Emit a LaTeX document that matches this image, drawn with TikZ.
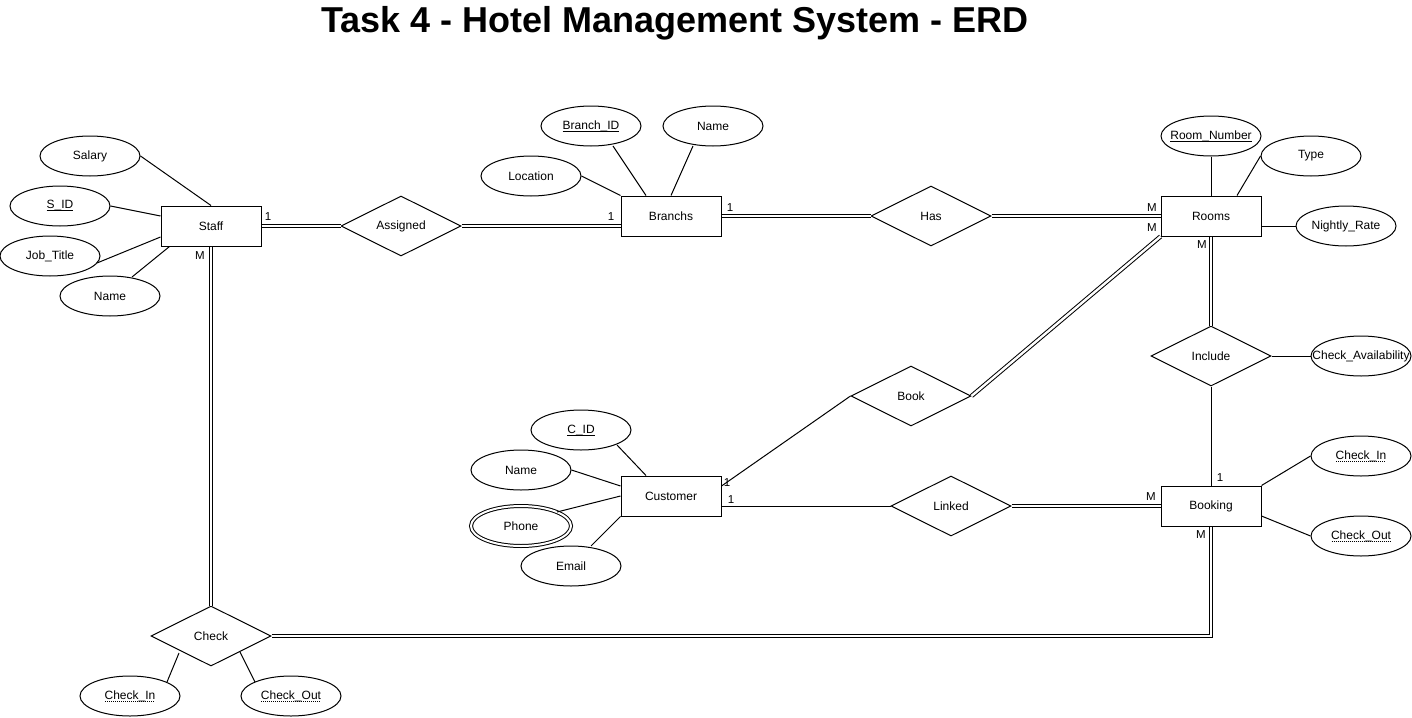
\documentclass[tikz,border=0pt]{standalone}
\usepackage{fontspec}
\setmainfont{Liberation Sans}
\usetikzlibrary{shapes.geometric,calc}
\newcommand{\zb}[1]{\makebox[0pt]{#1}}
\newcommand{\keyul}[1]{\setbox0=\hbox{#1}\rlap{\smash{\raisebox{-2.4pt}{\vrule width \wd0 height 0.9pt depth 0pt}}}\box0}
\newcommand{\dotul}[1]{\setbox0=\hbox{#1}\rlap{\smash{\raisebox{-2.6pt}{\hbox to \wd0{\leaders\hbox to 2pt{\hss\vrule width 1pt height 0.9pt depth 0pt\hss}\hfill}}}}\box0}
\begin{document}
\begin{tikzpicture}[x=1pt,y=-1pt,
  txt/.style={font=\fontsize{12}{14}\selectfont},
  ent/.style={draw, line width=1pt, rectangle, minimum width=100pt, minimum height=40pt, inner sep=0pt, txt},
  rel/.style={draw, line width=1pt, diamond, aspect=2, minimum width=120pt, minimum height=60pt, inner sep=0pt, txt},
  attr/.style={draw, line width=1pt, ellipse, minimum width=100pt, minimum height=40pt, inner sep=0pt, txt},
  mattr/.style={attr, double, double distance=2pt},
  ln/.style={line width=1pt},
  dbl/.style={double, line width=1pt, double distance=2.4pt},
  card/.style={font=\fontsize{11.5}{13}\selectfont, inner sep=0pt}
]
\useasboundingbox (0,0) rectangle (1412,717);
\fill[white] (0,0) rectangle (1412,717);

\node[font=\fontsize{36}{40}\selectfont\bfseries] (title) at (675,23) {Task 4 - Hotel Management System - ERD};

% entities
\node[ent] (staff) at (211,226) {Staff};
\node[ent] (branchs) at (671,216) {Branchs};
\node[ent] (rooms) at (1211,216) {Rooms};
\node[ent] (customer) at (671,496) {Customer};
\node[ent] (booking) at (1211,506) {Booking};

% relationships
\node[rel] (assigned) at (401,226) {Assigned};
\node[rel] (has) at (931,216) {Has};
\node[rel] (include) at (1211,356) {Include};
\node[rel] (book) at (911,396) {Book};
\node[rel] (linked) at (951,506) {Linked};
\node[rel] (check) at (211,636) {Check};

% attributes
\node[attr] (salary) at (90,156) {\zb{Salary}};
\node[attr] (sid) at (60,206) {\zb{\keyul{S\_ID}}};
\node[attr] (job) at (50,256) {\zb{Job\_Title}};
\node[attr] (sname) at (110,296) {\zb{Name}};
\node[attr] (bid) at (591,126) {\zb{\keyul{Branch\_ID}}};
\node[attr] (bname) at (713,126) {\zb{Name}};
\node[attr] (loc) at (531,176) {\zb{Location}};
\node[attr] (rnum) at (1211,136) {\zb{\keyul{Room\_Number}}};
\node[attr] (type) at (1311,156) {\zb{Type}};
\node[attr] (rate) at (1346,226) {\zb{Nightly\_Rate}};
\node[attr] (avail) at (1361,356) {\zb{Check\_Availability}};
\node[attr] (bcin) at (1361,456) {\zb{\dotul{Check\_In}}};
\node[attr] (bcout) at (1361,536) {\zb{\dotul{Check\_Out}}};
\node[attr] (cid) at (581,430) {\zb{\keyul{C\_ID}}};
\node[attr] (cname) at (521,470) {\zb{Name}};
\node[mattr] (phone) at (521,526) {\zb{Phone}};
\node[attr] (email) at (571,566) {\zb{Email}};
\node[attr] (ccin) at (130,696) {\zb{\dotul{Check\_In}}};
\node[attr] (ccout) at (291,696) {\zb{\dotul{Check\_Out}}};

% attribute connectors
\draw[ln] (salary.east) -- (staff.north);
\draw[ln] (sid.east) -- ($(staff.west)+(0,-10)$);
\draw[ln] ($(job)+(47,7)$) -- ($(staff.west)+(0,11)$);
\draw[ln] ($(sname)+(22,-19)$) -- ($(staff.south west)+(9,0)$);
\draw[ln] ($(bid)+(22,20)$) -- ($(branchs.north)+(-25,0)$);
\draw[ln] ($(bname)+(-20,20)$) -- (branchs.north);
\draw[ln] (loc.east) -- (branchs.north west);
\draw[ln] (rnum.south) -- (rooms.north);
\draw[ln] (type.west) -- ($(rooms.north)+(26,0)$);
\draw[ln] (rate.west) -- (rate.west -| rooms.east);
\draw[ln] (include.east) -- (avail.west);
\draw[ln] (booking.north east) -- (bcin.west);
\draw[ln] ($(booking.east)+(0,10)$) -- (bcout.west);
\draw[ln] ($(cid)+(36,15)$) -- ($(customer.north)+(-25,0)$);
\draw[ln] (cname.east) -- ($(customer.west)+(0,-10)$);
\draw[ln] ($(phone)+(36,-14)$) -- (customer.west);
\draw[ln] ($(email)+(20,-20)$) -- (customer.south west);
\draw[ln] ($(ccin)+(37,-14)$) -- ($(check)+(-32,17)$);
\draw[ln] ($(ccout)+(-36,-14)$) -- ($(check)+(29,16)$);

% relationship connectors
\draw[dbl] (staff.east) -- (assigned.west);
\draw[dbl] (assigned.east) -- (assigned.east -| branchs.west);
\draw[dbl] (branchs.east) -- (has.west);
\draw[dbl] (has.east) -- (rooms.west);
\draw[dbl] (rooms.south) -- (include.north);
\draw[ln] (include.south) -- (booking.north);
\draw[dbl] (linked.east) -- (booking.west);
\draw[ln] (linked.west -| customer.east) -- (linked.west);
\draw[ln] ($(customer.east)+(0,-10)$) -- (book.west);
\draw[dbl] (book.east) -- (rooms.south west);
\draw[dbl] (staff.south) -- (check.north);
\draw[dbl] (check.east) -| (booking.south);

% cardinalities
\node[card] (k1) at (268,217) {1};
\node[card] (k2) at (200,256) {M};
\node[card] (k3) at (611,217) {1};
\node[card] (k4) at (730,208) {1};
\node[card] (k5) at (1152,208) {M};
\node[card] (k6) at (1152,228) {M};
\node[card] (k7) at (1202,245) {M};
\node[card] (k8) at (1220,478) {1};
\node[card] (k9) at (1151,497) {M};
\node[card] (k10) at (1201,535) {M};
\node[card] (k11) at (727,483) {1};
\node[card] (k12) at (731,500) {1};
\end{tikzpicture}
\end{document}
